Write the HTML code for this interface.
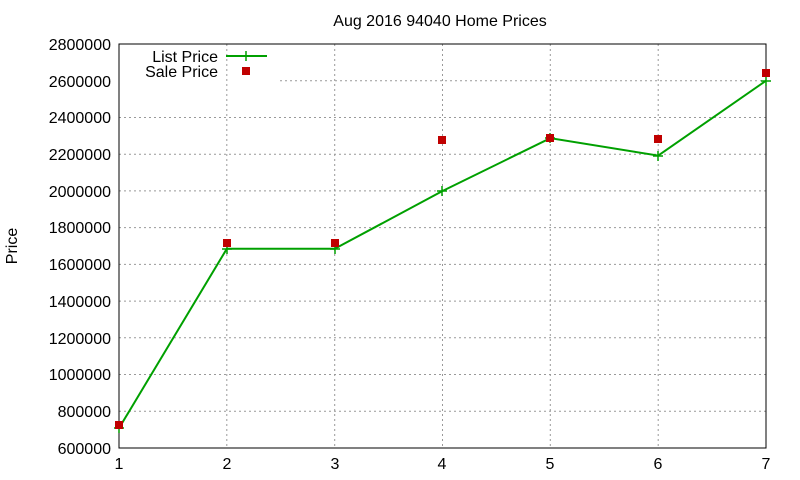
<!DOCTYPE html>
<html><head><meta charset="utf-8"><style>body{margin:0;background:#fff}svg{display:block}</style></head><body>
<svg width="800" height="480" xmlns="http://www.w3.org/2000/svg" font-family="Liberation Sans, sans-serif" font-size="16">
<rect width="800" height="480" fill="#fff"/>
<g stroke="#999" stroke-width="1" stroke-dasharray="2,3">
<line x1="119" y1="411.3" x2="766" y2="411.3"/><line x1="119" y1="374.5" x2="766" y2="374.5"/><line x1="119" y1="337.8" x2="766" y2="337.8"/><line x1="119" y1="301.1" x2="766" y2="301.1"/><line x1="119" y1="264.4" x2="766" y2="264.4"/><line x1="119" y1="227.6" x2="766" y2="227.6"/><line x1="119" y1="190.9" x2="766" y2="190.9"/><line x1="119" y1="154.2" x2="766" y2="154.2"/><line x1="119" y1="117.5" x2="766" y2="117.5"/><line x1="280" y1="80.7" x2="766" y2="80.7"/>
<line x1="226.8" y1="44" x2="226.8" y2="448"/><line x1="334.7" y1="44" x2="334.7" y2="448"/><line x1="442.5" y1="44" x2="442.5" y2="448"/><line x1="550.3" y1="44" x2="550.3" y2="448"/><line x1="658.2" y1="44" x2="658.2" y2="448"/>
</g>
<rect x="119" y="44" width="647" height="404" fill="none" stroke="#000"/>
<g text-anchor="end" fill="#000">
<text x="111" y="454">600000</text><text x="111" y="417">800000</text><text x="111" y="380">1000000</text><text x="111" y="344">1200000</text><text x="111" y="307">1400000</text><text x="111" y="270">1600000</text><text x="111" y="233">1800000</text><text x="111" y="197">2000000</text><text x="111" y="160">2200000</text><text x="111" y="123">2400000</text><text x="111" y="87">2600000</text><text x="111" y="50">2800000</text>
</g>
<g text-anchor="middle">
<text x="119" y="469">1</text><text x="227" y="469">2</text><text x="335" y="469">3</text><text x="442" y="469">4</text><text x="550" y="469">5</text><text x="658" y="469">6</text><text x="766" y="469">7</text>
<text x="440" y="26">Aug 2016 94040 Home Prices</text>
</g>
<text x="17" y="246" text-anchor="middle" transform="rotate(-90 17 246)">Price</text>
<text x="218" y="62" text-anchor="end">List Price</text>
<text x="218" y="77" text-anchor="end">Sale Price</text>
<line x1="226" y1="56" x2="267" y2="56" stroke="#00a000" stroke-width="2"/>
<path d="M246 51v10M241 56h10" stroke="#00a000" stroke-width="1.5"/>
<rect x="242" y="67" width="8" height="8" fill="#c00000"/>
<polyline fill="none" stroke="#00a000" stroke-width="2" points="119,428.2 226.8,248.8 334.7,248.8 442.5,191 550.3,138.2 658.2,155.6 766,80.7"/>
<g stroke="#00a000" stroke-width="1.5">
<path d="M119 423v10M114 428h10"/><path d="M227 244v10M222 249h10"/><path d="M335 244v10M330 249h10"/><path d="M442 186v10M437 191h10"/><path d="M550 133v10M545 138h10"/><path d="M658 151v10M653 156h10"/><path d="M766 76v10M761 81h10"/>
</g>
<g fill="#c00000">
<rect x="115" y="421" width="8" height="8"/><rect x="223" y="239" width="8" height="8"/><rect x="331" y="239" width="8" height="8"/><rect x="438" y="136" width="8" height="8"/><rect x="546" y="134" width="8" height="8"/><rect x="654" y="135" width="8" height="8"/><rect x="762" y="69" width="8" height="8"/>
</g>
</svg>
</body></html>
